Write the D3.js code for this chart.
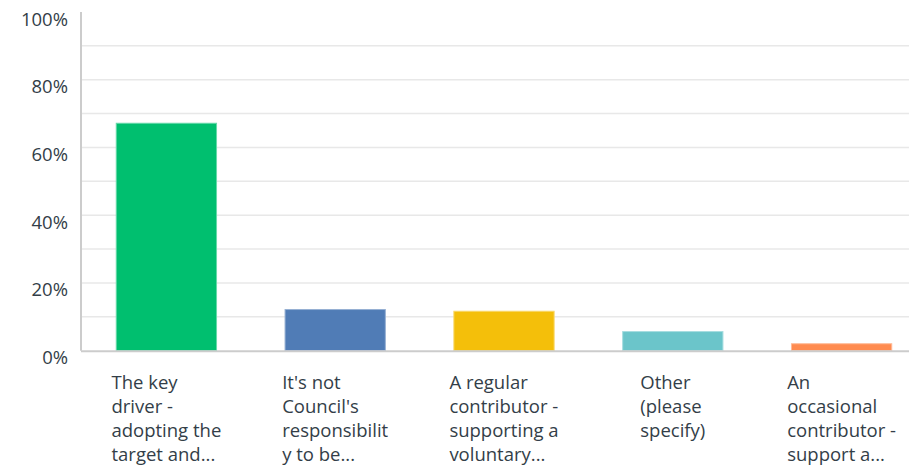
<!DOCTYPE html>
<html>
<head>
<meta charset="utf-8">
<script src="https://cdn.jsdelivr.net/npm/d3@7"></script>
<style>
  html, body { margin: 0; padding: 0; background: #fff; }
  svg { display: block; }
  text { font-family: "Open Sans", sans-serif; fill: #333e48; }
</style>
</head>
<body>
<svg id="chart" width="909" height="465"></svg>
<script>
const categories = [
  "The key driver - adopting the target and...",
  "It's not Council's responsibility to be...",
  "A regular contributor - supporting a voluntary...",
  "Other (please specify)",
  "An occasional contributor - support a..."
];
const labelLines = [
  ["The key", "driver -", "adopting the", "target and..."],
  ["It's not", "Council's", "responsibilit", "y to be..."],
  ["A regular", "contributor -", "supporting a", "voluntary..."],
  ["Other", "(please", "specify)"],
  ["An", "occasional", "contributor -", "support a..."]
];
const values = [0.673, 0.123, 0.118, 0.058, 0.022];
const colors = ["#00bf6f", "#507cb6", "#f4bf0a", "#6bc5ca", "#ff8b4f"];
const strokeColors = ["#66d9a9", "#96b0d3", "#f8d86c", "#a6dde0", "#ffb995"];
const gridTicks = [0.1, 0.2, 0.3, 0.4, 0.5, 0.6, 0.7, 0.8, 0.9];
const labelTicks = [0, 0.2, 0.4, 0.6, 0.8, 1.0];

const svg = d3.select("#chart");
const W = 909;
const x0 = 81;

const x = d3.scaleBand().domain(categories).range([82, 926])
  .paddingInner(0.4).paddingOuter(0.2);
const y = d3.scaleLinear().domain([0, 1]).range([350.7, 12]);

// gridlines
svg.append("g").selectAll("line").data(gridTicks).join("line")
  .attr("x1", x0).attr("x2", W)
  .attr("y1", d => y(d)).attr("y2", d => y(d))
  .attr("stroke", "#e8e8e8").attr("stroke-width", 1.5);

// y labels
svg.append("g").selectAll("text").data(labelTicks).join("text")
  .attr("x", 68).attr("y", d => y(d) + 13.5)
  .attr("text-anchor", "end")
  .attr("font-size", 18.5)
  .text(d => d3.format(".0%")(d));

// bars
svg.append("g").selectAll("rect").data(values).join("rect")
  .attr("x", (d, i) => x(categories[i]) + 0.5)
  .attr("width", x.bandwidth() - 1)
  .attr("y", d => y(d) + 0.5)
  .attr("height", d => y(0) - y(d) - 0.5)
  .attr("fill", (d, i) => colors[i])
  .attr("stroke", (d, i) => strokeColors[i])
  .attr("stroke-width", 1);

// axes lines
svg.append("line").attr("x1", x0).attr("x2", x0).attr("y1", 12).attr("y2", y(0))
  .attr("stroke", "#cccccc").attr("stroke-width", 2);
svg.append("line").attr("x1", x0).attr("x2", W).attr("y1", y(0) + 0.5).attr("y2", y(0) + 0.5)
  .attr("stroke", "#cccccc").attr("stroke-width", 2);

// x labels: left-aligned text blocks centred under each band
const lab = svg.append("g").selectAll("text").data(categories).join("text")
  .attr("y", 389)
  .attr("font-size", 18.5);
lab.each(function(d, i) {
  const t = d3.select(this);
  const spans = t.selectAll("tspan").data(labelLines[i]).join("tspan")
    .attr("dy", (s, j) => j === 0 ? 0 : 24)
    .text(s => s);
  let maxW = 0;
  spans.each(function() { maxW = Math.max(maxW, this.getComputedTextLength()); });
  const left = x(d) + x.bandwidth() / 2 - maxW / 2;
  spans.attr("x", left);
});
</script>
</body>
</html>
